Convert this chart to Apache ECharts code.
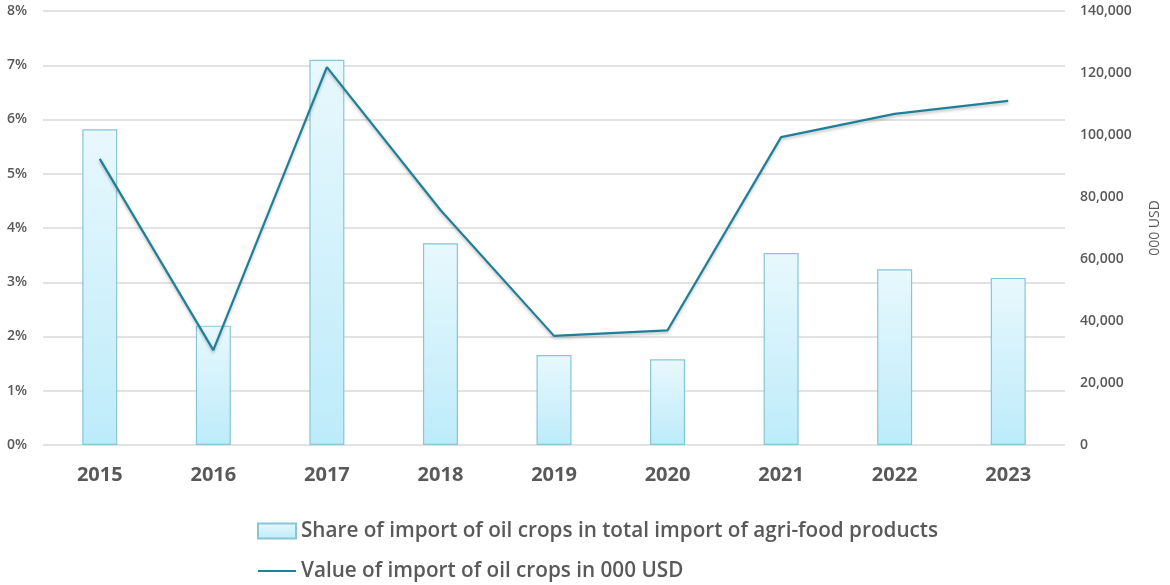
<!DOCTYPE html>
<html><head><meta charset="utf-8">
<script src="https://cdn.jsdelivr.net/npm/echarts@6/dist/echarts.min.js"></script>
<style>html,body{margin:0;padding:0;background:#fff}#c{width:1170px;height:585px}</style>
</head><body><div id="c"></div>
<script>
const years = ['2015','2016','2017','2018','2019','2020','2021','2022','2023'];
const sharePct = [5.82, 2.2, 7.1, 3.72, 1.66, 1.58, 3.54, 3.24, 3.08];
const importValue = [92300, 30600, 121900, 75800, 35200, 37000, 99300, 106800, 111000];
const leftTicks = [0, 8, 1];
const rightTicks = [0, 140000, 20000];
const shareName = 'Share of import of oil crops in total import of agri-food products';
const valueName = 'Value of import of oil crops in 000 USD';

const chart = echarts.init(document.getElementById('c'));
const txt = '#595959';
const font = "'Open Sans', 'Noto Sans', sans-serif";
chart.setOption({
  animation: false,
  textStyle: {fontFamily: font},
  grid: {left: 43, right: 102, top: 11, bottom: 140},
  legend: {
    orient: 'vertical', left: 252, top: 515, height: 200, itemGap: 18, itemWidth: 38, itemHeight: 15,
    textStyle: {color: txt, fontSize: 20.7, fontWeight: 600, fontFamily: font, lineHeight: 22},
    data: [
      {name: shareName, icon: 'rect'},
      {name: valueName, icon: 'path://M0,0H38V2.2H0Z', itemStyle: {color: '#1f7f99'}}
    ]
  },
  xAxis: {
    type: 'category', data: years,
    axisLine: {show: false}, axisTick: {show: false},
    axisLabel: {color: txt, fontSize: 20, fontWeight: 'bold', margin: 20}
  },
  yAxis: [{
    type: 'value', min: leftTicks[0], max: leftTicks[1], interval: leftTicks[2],
    axisLabel: {color: txt, fontSize: 14, fontWeight: 600, margin: 16, formatter: v => v + '%'},
    splitLine: {lineStyle: {color: '#d9d9d9', width: 1.5}},
    axisLine: {show: false}, axisTick: {show: false}
  }, {
    type: 'value', min: rightTicks[0], max: rightTicks[1], interval: rightTicks[2],
    position: 'right',
    name: '000 USD', nameLocation: 'middle', nameRotate: 90, nameGap: 83,
    nameTextStyle: {color: txt, fontSize: 14},
    axisLabel: {color: txt, fontSize: 14, fontWeight: 600, margin: 15,
      formatter: v => v.toLocaleString('en-US')},
    splitLine: {show: false}, axisLine: {show: false}, axisTick: {show: false}
  }],
  series: [{
    name: shareName, type: 'bar', data: sharePct, barWidth: 35, yAxisIndex: 0,
    itemStyle: {
      color: new echarts.graphic.LinearGradient(0, 0, 0, 1, [
        {offset: 0, color: '#e8f8fd'}, {offset: 1, color: '#bdebfa'}]),
      borderColor: '#86c6d6', borderWidth: 1.2
    }
  }, {
    name: valueName, type: 'line', data: importValue, yAxisIndex: 1,
    symbol: 'none',
    lineStyle: {color: '#1f7f99', width: 2.2, shadowColor: 'rgba(0,0,0,0.25)', shadowBlur: 3, shadowOffsetY: 2},
    itemStyle: {color: '#1f7f99'}
  }]
});
</script></body></html>
